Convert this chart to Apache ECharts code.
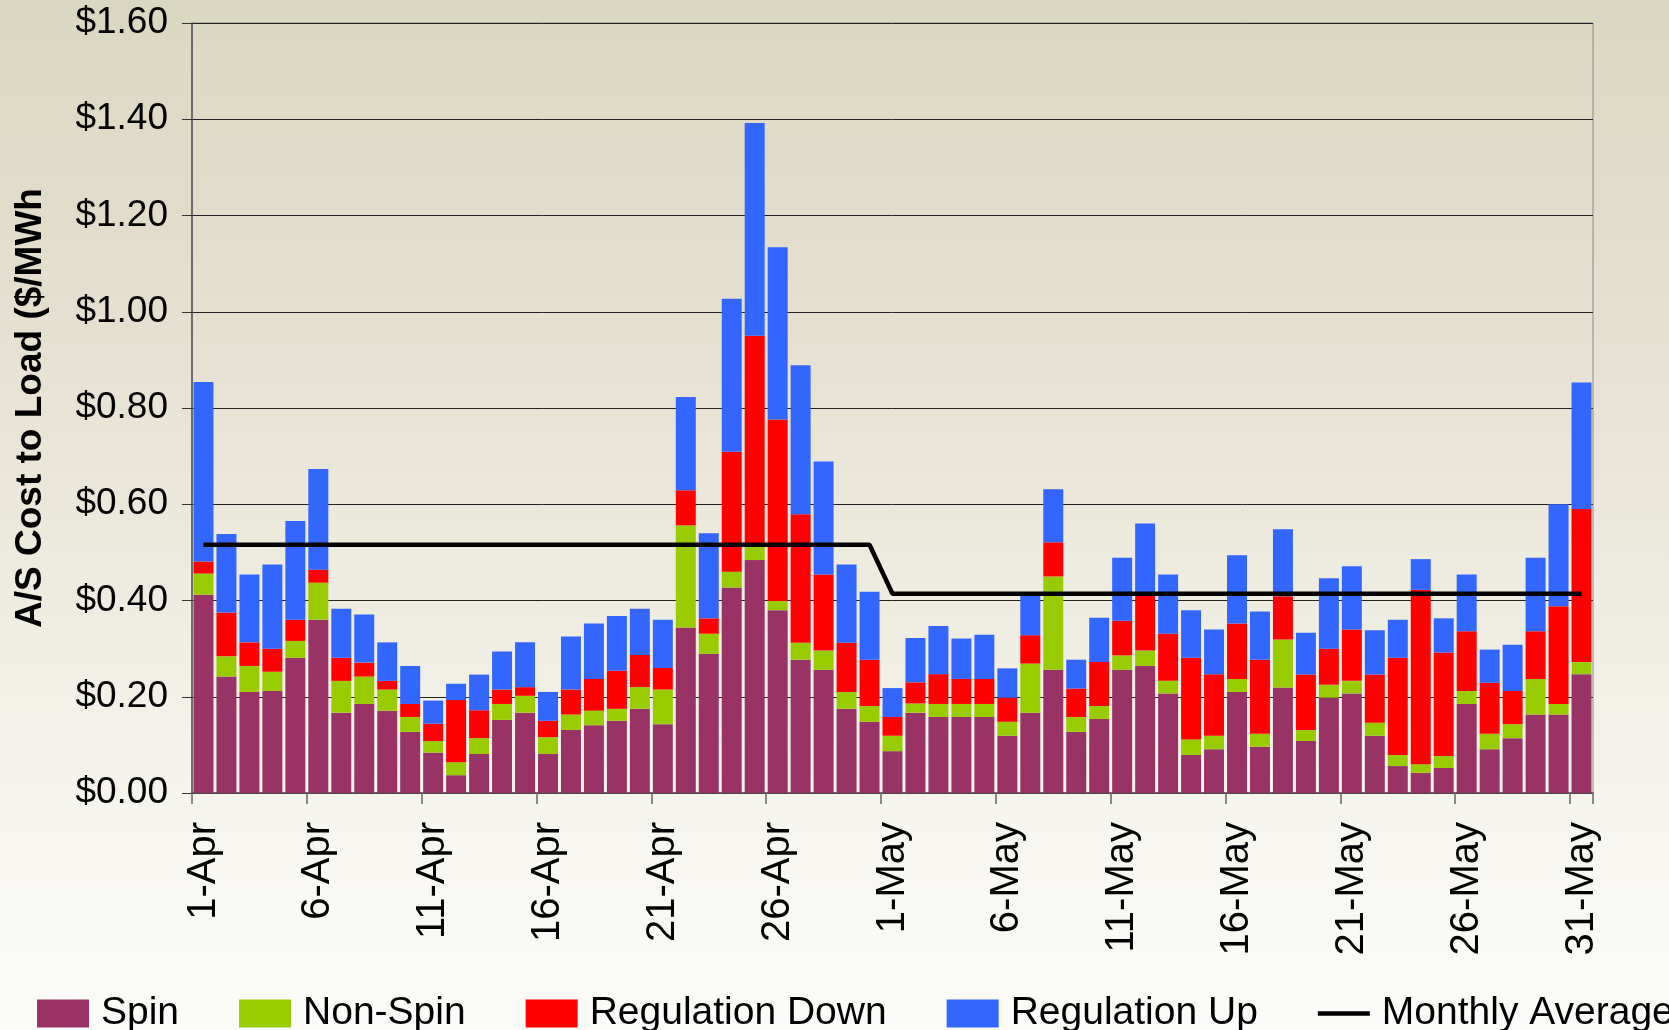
<!DOCTYPE html>
<html>
<head>
<meta charset="utf-8">
<script src="https://cdn.jsdelivr.net/npm/echarts@6/dist/echarts.min.js"></script>
<style>
  html, body { margin: 0; padding: 0; }
  #chart { width: 1669px; height: 1030px; }
</style>
</head>
<body>
<div id="chart"></div>
<script>
const days = [
  "1-Apr", "2-Apr", "3-Apr", "4-Apr", "5-Apr", "6-Apr", "7-Apr", "8-Apr", "9-Apr", "10-Apr",
  "11-Apr", "12-Apr", "13-Apr", "14-Apr", "15-Apr", "16-Apr", "17-Apr", "18-Apr", "19-Apr", "20-Apr",
  "21-Apr", "22-Apr", "23-Apr", "24-Apr", "25-Apr", "26-Apr", "27-Apr", "28-Apr", "29-Apr", "30-Apr",
  "1-May", "2-May", "3-May", "4-May", "5-May", "6-May", "7-May", "8-May", "9-May", "10-May",
  "11-May", "12-May", "13-May", "14-May", "15-May", "16-May", "17-May", "18-May", "19-May", "20-May",
  "21-May", "22-May", "23-May", "24-May", "25-May", "26-May", "27-May", "28-May", "29-May", "30-May", "31-May"
];

const spin = [
  0.412, 0.242, 0.210, 0.212, 0.281, 0.360, 0.167, 0.185, 0.171, 0.127,
  0.084, 0.037, 0.081, 0.152, 0.167, 0.081, 0.131, 0.141, 0.150, 0.175,
  0.143, 0.344, 0.289, 0.427, 0.484, 0.380, 0.277, 0.256, 0.175, 0.148,
  0.087, 0.167, 0.158, 0.158, 0.158, 0.119, 0.167, 0.256, 0.127, 0.154,
  0.256, 0.264, 0.207, 0.079, 0.091, 0.210, 0.096, 0.219, 0.108, 0.198,
  0.207, 0.119, 0.056, 0.042, 0.052, 0.185, 0.091, 0.114, 0.163, 0.163, 0.247
];

const nonSpin = [
  0.044, 0.042, 0.054, 0.040, 0.035, 0.077, 0.066, 0.057, 0.044, 0.031,
  0.024, 0.027, 0.033, 0.033, 0.035, 0.035, 0.032, 0.030, 0.025, 0.045,
  0.072, 0.212, 0.042, 0.033, 0.028, 0.019, 0.035, 0.040, 0.035, 0.033,
  0.032, 0.019, 0.027, 0.027, 0.027, 0.029, 0.102, 0.194, 0.031, 0.027,
  0.030, 0.032, 0.026, 0.032, 0.028, 0.027, 0.027, 0.100, 0.023, 0.027,
  0.026, 0.027, 0.023, 0.018, 0.025, 0.027, 0.032, 0.029, 0.074, 0.022, 0.025
];

const regDown = [
  0.025, 0.091, 0.049, 0.048, 0.044, 0.027, 0.048, 0.029, 0.018, 0.027,
  0.036, 0.129, 0.058, 0.030, 0.018, 0.034, 0.052, 0.066, 0.079, 0.067,
  0.045, 0.073, 0.032, 0.249, 0.438, 0.377, 0.267, 0.158, 0.102, 0.096,
  0.039, 0.044, 0.062, 0.052, 0.052, 0.050, 0.059, 0.071, 0.059, 0.091,
  0.072, 0.119, 0.098, 0.170, 0.128, 0.115, 0.154, 0.090, 0.115, 0.075,
  0.107, 0.100, 0.202, 0.362, 0.215, 0.124, 0.106, 0.069, 0.099, 0.203, 0.318
];

const regUp = [
  0.373, 0.163, 0.141, 0.175, 0.205, 0.209, 0.102, 0.100, 0.080, 0.079,
  0.048, 0.034, 0.074, 0.079, 0.093, 0.060, 0.110, 0.115, 0.114, 0.096,
  0.100, 0.194, 0.177, 0.318, 0.442, 0.358, 0.310, 0.235, 0.163, 0.141,
  0.060, 0.092, 0.100, 0.084, 0.092, 0.061, 0.088, 0.110, 0.060, 0.092,
  0.131, 0.145, 0.123, 0.099, 0.093, 0.142, 0.100, 0.139, 0.087, 0.146,
  0.131, 0.092, 0.079, 0.064, 0.071, 0.118, 0.069, 0.096, 0.153, 0.212, 0.263
];

// monthly average cost, one value per month
const avgMonths = ["Apr", "May"];
const avgValues = [0.516, 0.414];

const monthlyAvg = days.map(d => avgValues[avgMonths.indexOf(d.split("-")[1])]);

const font = "'Liberation Sans', Arial, sans-serif";

const barSeries = (name, data, color) => ({
  name,
  type: "bar",
  stack: "cost",
  data,
  barCategoryGap: "13%",
  itemStyle: { color }
});

const chart = echarts.init(document.getElementById("chart"));
chart.setOption({
  animation: false,
  backgroundColor: {
    type: "linear", x: 0, y: 0, x2: 0, y2: 1,
    colorStops: [
      { offset: 0, color: "#dbd8c1" },
      { offset: 0.3, color: "#e5dfcf" },
      { offset: 0.6, color: "#efede2" },
      { offset: 0.85, color: "#f8f7f2" },
      { offset: 1, color: "#fbfbf9" }
    ]
  },
  grid: {
    left: 192, right: 76, top: 23, bottom: 237,
    outerBoundsMode: "none",
    containLabel: false,
    show: true, borderColor: "#8a8a8a", borderWidth: 1,
    backgroundColor: "transparent"
  },
  legend: {
    left: 32, top: 989, width: 2000,
    itemWidth: 52, itemHeight: 28, itemGap: 60,
    icon: "rect",
    textStyle: { fontFamily: font, fontSize: 39, color: "#000", padding: [0, 0, 0, 7] },
    data: [
      "Spin", "Non-Spin", "Regulation Down", "Regulation Up",
      { name: "Monthly Average", icon: "path://M0,0L100,0L100,9L0,9Z" }
    ]
  },
  xAxis: {
    type: "category",
    data: days,
    axisLine: { lineStyle: { color: "#555", width: 1.5 } },
    axisTick: { show: true, interval: 4, length: 11, lineStyle: { color: "#666", width: 1.5 } },
    axisLabel: {
      interval: 4, rotate: 90, margin: 29,
      fontFamily: font, fontSize: 40, color: "#000"
    }
  },
  yAxis: {
    type: "value",
    min: 0, max: 1.6, interval: 0.2,
    name: "A/S Cost to Load ($/MWh",
    nameLocation: "middle",
    nameGap: 143,
    nameTextStyle: { fontFamily: font, fontWeight: "bold", fontSize: 37, color: "#000" },
    axisLine: { show: true, lineStyle: { color: "#555", width: 1.5 } },
    axisTick: { show: true, length: 10, lineStyle: { color: "#333" } },
    splitLine: { lineStyle: { color: "#222", width: 1 } },
    axisLabel: {
      margin: 24,
      fontFamily: font, fontSize: 37, color: "#000",
      formatter: v => "$" + v.toFixed(2)
    }
  },
  series: [
    barSeries("Spin", spin, "#993366"),
    barSeries("Non-Spin", nonSpin, "#99cc00"),
    barSeries("Regulation Down", regDown, "#ff0000"),
    barSeries("Regulation Up", regUp, "#3366ff"),
    {
      name: "Monthly Average",
      type: "line",
      data: monthlyAvg,
      symbol: "none",
      z: 5,
      itemStyle: { color: "#000" },
      lineStyle: { color: "#000", width: 4.5 }
    }
  ]
});
</script>
</body>
</html>
